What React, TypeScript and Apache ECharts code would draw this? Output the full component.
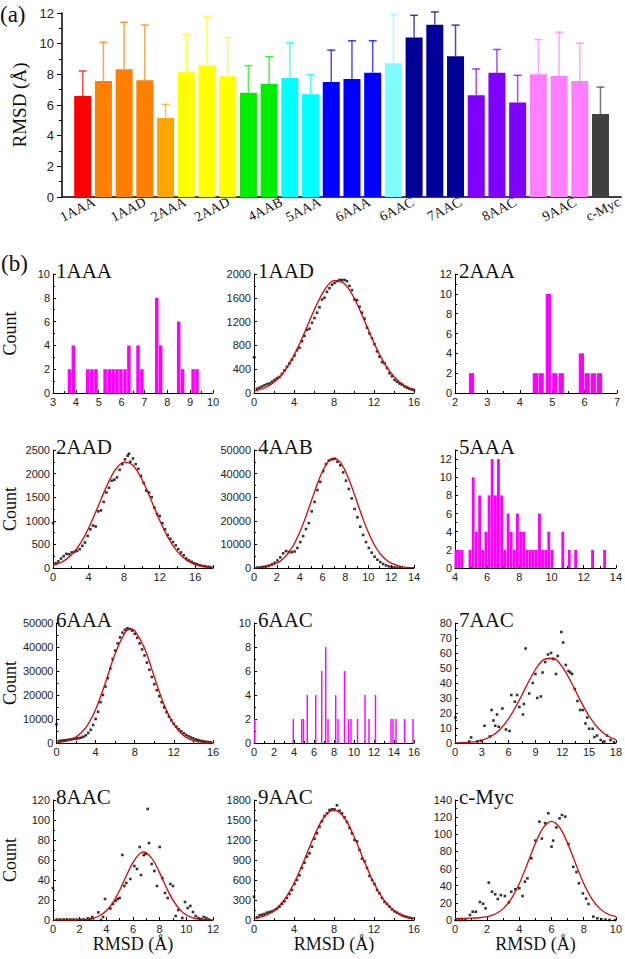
import React, { useEffect, useRef } from "react";
import * as echarts from "echarts";

// ---------- Panel (a) data ----------
const barValues = [6.59, 7.57, 8.33, 7.61, 5.16, 8.13, 8.57, 7.87, 6.8, 7.39, 7.76, 6.7, 7.5, 7.7, 8.11, 8.72, 10.4, 11.23, 9.18, 6.63, 8.11, 6.17, 8.0, 7.89, 7.57, 5.42];
const barErrors = [1.63, 2.53, 3.07, 3.61, 0.88, 2.49, 3.19, 2.53, 1.77, 1.76, 2.3, 1.28, 2.08, 2.49, 2.08, 3.18, 1.45, 0.84, 2.03, 1.72, 1.51, 1.77, 2.27, 2.86, 2.46, 1.75];
const barColors = ["#ff0000", "#ff8000", "#ff8000", "#ff8000", "#ffa500", "#ffff00", "#ffff00", "#ffff00", "#00ee00", "#00ee00", "#00ffff", "#00ffff", "#0000ff", "#0000ff", "#0000ff", "#80ffff", "#000099", "#000099", "#000099", "#8000ff", "#8000ff", "#8000ff", "#ff80ff", "#ff80ff", "#ff80ff", "#404040"];
const groupLabels = ["1AAA", "1AAD", "2AAA", "2AAD", "4AAB", "5AAA", "6AAA", "6AAC", "7AAC", "8AAC", "9AAC", "c-Myc"];
const groupLabelPos = [1.55, 4.0, 5.95, 8.05, 10.6, 12.45, 14.85, 16.95, 19.25, 21.9, 24.8, 26.9];

// ---------- Panel (b) histograms ----------
const hist1AAA = [[3.72, 2], [3.89, 4], [4.52, 2], [4.7, 2], [4.88, 2], [5.28, 2], [5.46, 2], [5.63, 2], [5.8, 2], [5.97, 2], [6.15, 2], [6.32, 4], [6.72, 4], [6.89, 2], [7.54, 8], [7.71, 4], [8.5, 6], [8.67, 2], [9.13, 2], [9.3, 2]];
const hist2AAA = [[2.51, 2], [4.48, 2], [4.66, 2], [4.88, 10], [5.08, 2], [5.28, 2], [5.9, 4], [6.08, 2], [6.27, 2], [6.46, 2]];
const hist5AAA = [[4.06, 2], [4.25, 2], [4.43, 2], [4.93, 2], [5.13, 10], [5.33, 4], [5.53, 8], [5.73, 2], [5.92, 4], [6.12, 8], [6.31, 12], [6.51, 8], [6.7, 12], [6.9, 8], [7.1, 2], [7.3, 6], [7.49, 4], [7.69, 2], [7.88, 6], [8.08, 4], [8.27, 4], [8.47, 2], [8.66, 2], [8.86, 2], [9.05, 2], [9.25, 6], [9.44, 2], [9.64, 2], [9.83, 4], [10.03, 2], [10.7, 4], [11.1, 2], [11.5, 2], [12.55, 2], [13.3, 2]];
const hist6AAC = [[0.08, 2], [3.93, 2], [4.77, 2], [4.95, 2], [5.33, 4], [6.17, 4], [6.77, 6], [7.17, 8], [7.4, 2], [8.17, 4], [8.4, 2], [9.05, 6], [9.45, 2], [9.7, 2], [10.35, 2], [11.1, 4], [11.5, 2], [12.15, 4], [13.7, 2], [13.9, 2], [14.2, 2], [15.05, 2], [15.9, 2]];

// ---------- Panel (b) scatter points and fitted curves ----------
const pts1AAD = [[0, 600], [0.3, 70], [0.55, 90], [0.8, 110], [1.05, 130], [1.3, 150], [1.55, 160], [1.8, 190], [2.05, 220], [2.3, 250], [2.55, 270], [2.8, 320], [3.05, 380], [3.3, 440], [3.55, 500], [3.8, 560], [4.05, 630], [4.3, 720], [4.55, 760], [4.8, 870], [5.05, 960], [5.3, 1060], [5.55, 1080], [5.8, 1180], [6.05, 1260], [6.3, 1350], [6.55, 1440], [6.8, 1570], [7.05, 1600], [7.3, 1700], [7.55, 1760], [7.8, 1820], [8.05, 1850], [8.3, 1880], [8.55, 1900], [8.8, 1900], [9.05, 1900], [9.3, 1880], [9.55, 1800], [9.8, 1730], [10.05, 1570], [10.3, 1560], [10.55, 1450], [10.8, 1350], [11.05, 1250], [11.3, 1100], [11.55, 1000], [11.8, 920], [12.05, 820], [12.3, 700], [12.55, 610], [12.8, 520], [13.05, 500], [13.3, 420], [13.55, 330], [13.8, 280], [14.05, 220], [14.3, 190], [14.55, 160], [14.8, 140], [15.05, 110], [15.3, 90], [15.55, 70], [15.8, 60], [16, 50]];
const fit1AAD = [[0, 31], [1, 80], [2, 179], [3, 357], [4, 632], [5, 995], [6, 1387], [7, 1718], [8, 1890], [9, 1845], [10, 1600], [11, 1232], [12, 842], [13, 511], [14, 275], [15, 131], [16, 56]];

const pts2AAD = [[0, 950], [0.3, 100], [0.6, 140], [0.9, 200], [1.2, 250], [1.5, 300], [1.8, 290], [2.1, 330], [2.4, 340], [2.7, 360], [3.0, 400], [3.3, 470], [3.6, 540], [3.9, 680], [4.2, 820], [4.5, 900], [4.8, 880], [5.1, 1200], [5.4, 1220], [5.7, 1400], [6.0, 1600], [6.3, 1700], [6.6, 1850], [6.9, 1870], [7.2, 1920], [7.5, 2080], [7.8, 2200], [8.1, 2300], [8.4, 2380], [8.55, 2420], [8.7, 2250], [9.0, 2320], [9.3, 2200], [9.6, 2100], [9.9, 1950], [10.2, 1800], [10.5, 1640], [10.8, 1600], [11.1, 1500], [11.4, 1280], [11.7, 1140], [12.0, 1100], [12.3, 950], [12.6, 820], [12.9, 700], [13.2, 620], [13.5, 550], [13.8, 480], [14.1, 400], [14.4, 330], [14.7, 270], [15.0, 200], [15.3, 160], [15.6, 130], [15.9, 100], [16.2, 80], [16.5, 60], [16.8, 45], [17.1, 35], [17.4, 25], [17.7, 20]];
const fit2AAD = [[0, 54], [1, 126], [2, 265], [3, 502], [4, 844], [5, 1273], [6, 1719], [7, 2077], [8, 2245], [9, 2171], [10, 1879], [11, 1455], [12, 1011], [13, 626], [14, 348], [15, 172], [16, 77], [17, 31], [18, 11]];

const pts4AAB = [[0.3, 200], [0.55, 300], [0.8, 500], [1.05, 700], [1.3, 1000], [1.55, 1500], [1.8, 2200], [2.05, 3200], [2.3, 4500], [2.55, 6200], [2.8, 7200], [3.05, 6800], [3.3, 6700], [3.55, 7000], [3.8, 8500], [4.05, 11000], [4.3, 13500], [4.55, 16500], [4.8, 19000], [5.05, 24000], [5.3, 28000], [5.55, 33000], [5.8, 36500], [6.05, 41000], [6.3, 44000], [6.55, 45500], [6.8, 46000], [7.05, 46300], [7.3, 45000], [7.55, 43500], [7.8, 40500], [8.05, 37000], [8.3, 33500], [8.55, 29500], [8.8, 25000], [9.05, 21500], [9.3, 17500], [9.55, 14000], [9.8, 11000], [10.05, 8500], [10.3, 6500], [10.55, 4800], [10.8, 3500], [11.05, 2500], [11.3, 1700], [11.55, 1100], [11.8, 700], [12.05, 400], [12.3, 250], [12.55, 150], [12.8, 80]];
const fit4AAB = [[0, 100], [1, 520], [2, 2040], [2.5, 3700], [3, 6300], [3.5, 10060], [4, 15100], [4.5, 21300], [5, 28200], [5.5, 35100], [6, 41000], [6.5, 45070], [7, 46500], [7.5, 45070], [8, 41000], [8.5, 35100], [9, 28200], [9.5, 21300], [10, 15100], [10.5, 10060], [11, 6300], [11.5, 3700], [12, 2040], [13, 520], [14, 100]];

const pts6AAA = [[0, 7800], [0.25, 800], [0.5, 1000], [0.75, 1100], [1.0, 1200], [1.25, 1400], [1.5, 1500], [1.75, 1700], [2.0, 1800], [2.25, 2000], [2.5, 2200], [2.75, 2600], [3.0, 3200], [3.25, 4200], [3.5, 5500], [3.75, 7500], [4.0, 10000], [4.25, 13000], [4.5, 17000], [4.75, 20000], [5.0, 23500], [5.25, 27000], [5.5, 31000], [5.75, 35000], [6.0, 38500], [6.25, 41500], [6.5, 44000], [6.75, 46000], [7.0, 47200], [7.25, 47800], [7.5, 47500], [7.75, 46800], [8.0, 45500], [8.25, 43800], [8.5, 41500], [8.75, 39000], [9.0, 36500], [9.25, 33500], [9.5, 30500], [9.75, 27500], [10.0, 24500], [10.25, 22000], [10.5, 19500], [10.75, 17000], [11.0, 14800], [11.25, 12800], [11.5, 11000], [11.75, 9400], [12.0, 8000], [12.25, 6800], [12.5, 5800], [12.75, 4900], [13.0, 4100], [13.25, 3400], [13.5, 2800], [13.75, 2300], [14.0, 1900], [14.25, 1500], [14.5, 1200], [14.75, 900], [15.0, 700], [15.25, 500], [15.5, 400], [15.75, 300]];
const fit6AAA = [[0, 200], [1, 770], [2, 2460], [3, 6420], [4, 13950], [5, 25080], [6, 37280], [7, 45920], [7.6, 47500], [8, 46790], [9, 39470], [10, 27570], [11, 15920], [12, 7610], [13, 3020], [14, 990], [15, 270], [16, 60]];

const pts7AAC = [[0.05, 17], [1.6, 1], [1.8, 3.7], [2.5, 1], [2.9, 1.5], [3.3, 11.5], [3.9, 4.4], [4.1, 22], [4.3, 15], [4.5, 11.5], [4.7, 19], [4.9, 10.8], [5.3, 23], [5.7, 9], [6.1, 8], [6.3, 32], [6.7, 27.5], [6.95, 32], [7.2, 24], [7.6, 19], [7.7, 26], [7.9, 63], [8.3, 33], [8.7, 40], [9.0, 46], [9.2, 30], [9.6, 31], [9.8, 47], [10.1, 54], [10.4, 59], [10.75, 60], [11.0, 56], [11.3, 46], [11.5, 58], [11.9, 74], [12.1, 67], [12.4, 52], [12.7, 48], [12.9, 47], [13.1, 46], [13.4, 36], [13.7, 28], [14.0, 22], [14.3, 22], [14.6, 13], [14.8, 17], [15.0, 9.5], [15.4, 9.5], [15.6, 4], [15.9, 5], [16.3, 2], [16.7, 1], [17.0, 5], [17.4, 2], [17.8, 0.5]];
const fit7AAC = [[0, 0.1], [1, 0.2], [2, 0.7], [3, 1.8], [4, 4.3], [5, 8.8], [6, 16.2], [7, 26.3], [8, 38.1], [9, 49], [10, 55.8], [11, 56.5], [12, 50.7], [13, 40.5], [14, 28.6], [15, 18], [16, 10], [17, 5], [18, 2.2]];

const pts8AAC = [[0, 32], [0.3, 0.5], [0.55, 0.5], [0.8, 0.5], [1.05, 0.5], [1.3, 0.5], [1.55, 0.5], [1.8, 0.5], [2.05, 0.5], [2.3, 0.5], [2.6, 1.6], [2.8, 1], [2.95, 3], [3.4, 7.6], [3.6, 0], [3.75, 3], [3.9, 21], [4.3, 11.5], [4.5, 16], [4.7, 19], [4.85, 21], [5.0, 22], [5.2, 65], [5.35, 34], [5.5, 37], [5.8, 41], [6.1, 54], [6.3, 51], [6.5, 73], [6.6, 45], [6.8, 65], [6.95, 66], [7.1, 111], [7.2, 77], [7.4, 56], [7.6, 49], [7.8, 34], [8.0, 73], [8.2, 42], [8.4, 27], [8.6, 22], [8.8, 36], [9.0, 34], [9.2, 4], [9.4, 10], [9.7, 2], [9.9, 18], [10.1, 12], [10.3, 14], [10.5, 8], [10.7, 4], [10.9, 2], [11.1, 1], [11.3, 3], [11.5, 2], [11.7, 0.5]];
const fit8AAC = [[0, 0], [1, 0], [2, 0.2], [2.5, 0.7], [3, 1.7], [3.5, 4.2], [4, 9.2], [4.5, 17.6], [5, 29.7], [5.5, 44.2], [6, 57.7], [6.5, 66.4], [6.8, 68], [7, 67.3], [7.5, 60], [8, 47.1], [8.5, 32.5], [9, 19.8], [9.5, 10.6], [10, 5], [10.5, 2.1], [11, 0.8], [11.5, 0.3], [12, 0.1]];

const pts9AAC = [[0, 350], [0.3, 40], [0.55, 70], [0.8, 80], [1.05, 90], [1.3, 110], [1.55, 120], [1.8, 130], [2.05, 150], [2.3, 170], [2.55, 200], [2.8, 240], [3.05, 280], [3.3, 330], [3.55, 390], [3.8, 450], [4.05, 540], [4.3, 600], [4.55, 670], [4.8, 780], [5.05, 860], [5.3, 950], [5.55, 1000], [5.8, 1100], [6.05, 1220], [6.3, 1300], [6.55, 1400], [6.8, 1480], [7.05, 1560], [7.3, 1600], [7.55, 1650], [7.8, 1660], [8.05, 1660], [8.3, 1720], [8.55, 1640], [8.8, 1600], [9.05, 1540], [9.3, 1470], [9.55, 1380], [9.8, 1300], [10.05, 1200], [10.3, 1180], [10.55, 1050], [10.8, 920], [11.05, 880], [11.3, 780], [11.55, 660], [11.8, 600], [12.05, 540], [12.3, 450], [12.55, 400], [12.8, 330], [13.05, 270], [13.3, 240], [13.55, 200], [13.8, 160], [14.05, 130], [14.3, 110], [14.55, 90], [14.8, 70], [15.05, 55], [15.3, 45], [15.55, 35], [15.8, 25]];
const fit9AAC = [[0, 20], [1, 57], [2, 140], [3, 297], [4, 551], [5, 890], [6, 1254], [7, 1541], [8, 1650], [9, 1541], [10, 1254], [11, 890], [12, 551], [13, 297], [14, 140], [15, 57], [16, 20]];

const ptsMyc = [[0.05, 0], [0.25, 0], [0.45, 0], [0.65, 0], [0.93, 5.8], [1.1, 9.7], [1.3, 9.7], [1.55, 21], [1.75, 19], [1.9, 13.6], [2.1, 43.6], [2.3, 33], [2.5, 30], [2.66, 24.5], [2.85, 29], [3.1, 28], [3.35, 20.6], [3.5, 33], [3.75, 35.8], [4.0, 37], [4.2, 28], [4.35, 44.7], [4.5, 48.6], [4.75, 72], [5.0, 92.6], [5.25, 114.7], [5.4, 95], [5.6, 113], [5.8, 124.5], [6.0, 85.6], [6.1, 92.6], [6.3, 108], [6.5, 118.6], [6.65, 122.5], [6.85, 120.6], [7.05, 88.7], [7.35, 62], [7.55, 56], [7.7, 42.8], [7.95, 31], [8.15, 25], [8.3, 18.7], [8.6, 3.9], [8.85, 2], [9.1, 0.8], [9.35, 0.5], [9.6, 0], [9.95, 0]];
const fitMyc = [[0, 2], [1, 2.2], [1.5, 2.6], [2, 3.9], [2.5, 7], [3, 13.3], [3.5, 25], [4, 42.7], [4.5, 65.6], [5, 89.6], [5.5, 108], [6, 115], [6.5, 108], [7, 89.6], [7.5, 65.6], [8, 42.7], [8.5, 25], [9, 13.3], [9.5, 7], [10, 3.9]];

// panel axis ranges (ticks)
const panels: any[] = [
  { name: "1AAA", hist: hist1AAA, bin: 0.17, xMin: 3, xMax: 10, xInt: 1, yMax: 10, yInt: 2 },
  { name: "1AAD", pts: pts1AAD, fit: fit1AAD, xMin: 0, xMax: 16, xInt: 4, yMax: 2000, yInt: 400 },
  { name: "2AAA", hist: hist2AAA, bin: 0.18, xMin: 2, xMax: 7, xInt: 1, yMax: 12, yInt: 2 },
  { name: "2AAD", pts: pts2AAD, fit: fit2AAD, xMin: 0, xMax: 18, xInt: 4, yMax: 2500, yInt: 500 },
  { name: "4AAB", pts: pts4AAB, fit: fit4AAB, xMin: 0, xMax: 14, xInt: 2, yMax: 50000, yInt: 10000 },
  { name: "5AAA", hist: hist5AAA, bin: 0.195, xMin: 4, xMax: 14, xInt: 2, yMax: 13, yInt: 2 },
  { name: "6AAA", pts: pts6AAA, fit: fit6AAA, xMin: 0, xMax: 16, xInt: 4, yMax: 50000, yInt: 10000 },
  { name: "6AAC", hist: hist6AAC, bin: 0.16, xMin: 0, xMax: 16, xInt: 2, yMax: 10, yInt: 2 },
  { name: "7AAC", pts: pts7AAC, fit: fit7AAC, xMin: 0, xMax: 18, xInt: 3, yMax: 80, yInt: 10 },
  { name: "8AAC", pts: pts8AAC, fit: fit8AAC, xMin: 0, xMax: 12, xInt: 2, yMax: 120, yInt: 20 },
  { name: "9AAC", pts: pts9AAC, fit: fit9AAC, xMin: 0, xMax: 16, xInt: 4, yMax: 1800, yInt: 300 },
  { name: "c-Myc", pts: ptsMyc, fit: fitMyc, xMin: 0, xMax: 10, xInt: 2, yMax: 140, yInt: 20 },
];

// ---------- layout ----------
const SANS = "'Liberation Sans', Arial, sans-serif";
const SERIF = "'Liberation Serif', 'Times New Roman', serif";
const colLeft = [52, 254, 455];
const colWidth = [161, 160, 162];
const rowTop = [274, 450, 623, 800];
const rowHeight = [119, 118, 120, 120];

function buildOption() {
  const grid: any[] = [{ left: 62, top: 13, width: 561, height: 184 }];
  const xAxis: any[] = [];
  const yAxis: any[] = [];
  const series: any[] = [];
  const graphic: any[] = [];

  // Panel (a)
  xAxis.push({
    type: "value", gridIndex: 0, min: 0, max: 27,
    axisLine: { lineStyle: { color: "#000", width: 1.5 } },
    axisTick: { show: false }, splitLine: { show: false },
    axisLabel: {
      customValues: groupLabelPos,
      formatter: (v: number) => {
        const i = groupLabelPos.findIndex((p) => Math.abs(p - v) < 1e-6);
        return i >= 0 ? groupLabels[i] : "";
      },
      rotate: 27, fontFamily: SERIF, fontSize: 14, color: "#111", margin: 4,
    },
  });
  yAxis.push({
    type: "value", gridIndex: 0, min: 0, max: 12, interval: 2,
    axisLine: { show: true, lineStyle: { color: "#000", width: 1.5 } },
    axisTick: { show: true, length: 5, lineStyle: { color: "#000" } },
    minorTick: { show: true, splitNumber: 2, length: 3, lineStyle: { color: "#000" } },
    splitLine: { show: false },
    axisLabel: { fontFamily: SANS, fontSize: 13, color: "#222", margin: 8 },
    name: "RMSD (Å)", nameLocation: "middle", nameGap: 32,
    nameTextStyle: { fontFamily: SERIF, fontSize: 19, color: "#111" },
  });
  series.push({
    type: "bar", xAxisIndex: 0, yAxisIndex: 0, barWidth: 17, z: 2,
    data: barValues.map((v, i) => ({ value: [i + 1, v], itemStyle: { color: barColors[i] } })),
  });
  series.push({
    type: "custom", xAxisIndex: 0, yAxisIndex: 0, z: 3,
    encode: { x: 0, y: [1, 2] },
    data: barValues.map((v, i) => [i + 1, v, v + barErrors[i], i]),
    renderItem: (params: any, api: any) => {
      const x = api.value(0);
      const idx = api.value(3);
      const lo = api.coord([x, api.value(1)]);
      const hi = api.coord([x, api.value(2)]);
      const c = barColors[idx];
      return {
        type: "group",
        children: [
          { type: "line", shape: { x1: lo[0], y1: lo[1], x2: hi[0], y2: hi[1] }, style: { stroke: c, lineWidth: 1.5, opacity: 0.7 } },
          { type: "line", shape: { x1: hi[0] - 4, y1: hi[1], x2: hi[0] + 4, y2: hi[1] }, style: { stroke: c, lineWidth: 1.5, opacity: 0.75 } },
        ],
      };
    },
  });

  graphic.push({ type: "text", x: 0, y: 14, style: { text: "(a)", fontFamily: SERIF, fontSize: 23, fill: "#111", verticalAlign: "middle" } });
  graphic.push({ type: "text", x: 1, y: 263, style: { text: "(b)", fontFamily: SERIF, fontSize: 23, fill: "#111", verticalAlign: "middle" } });

  // Panel (b)
  panels.forEach((p, k) => {
    const col = k % 3;
    const row = Math.floor(k / 3);
    const gi = k + 1;
    const left = colLeft[col];
    const width = colWidth[col];
    const top = rowTop[row];
    const height = rowHeight[row];
    grid.push({ left, top, width, height });
    const hideMaxX = p.xMax % p.xInt !== 0;
    const hideMaxY = p.yMax % p.yInt !== 0;
    xAxis.push({
      type: "value", gridIndex: gi, min: p.xMin, max: p.xMax, interval: p.xInt,
      axisLine: { lineStyle: { color: "#000", width: 1 } },
      axisTick: { show: true, inside: true, length: 3, lineStyle: { color: "#000" } },
      minorTick: { show: true, splitNumber: 2, length: 2, lineStyle: { color: "#000" } },
      splitLine: { show: false },
      axisLabel: { fontFamily: SANS, fontSize: 11, color: "#222", margin: 3, showMaxLabel: !hideMaxX, formatter: (v: number) => String(v) },
      name: row === 3 ? "RMSD (Å)" : "", nameLocation: "middle", nameGap: 15,
      nameTextStyle: { fontFamily: SERIF, fontSize: 18, color: "#111" },
    });
    yAxis.push({
      type: "value", gridIndex: gi, min: 0, max: p.yMax, interval: p.yInt,
      axisLine: { show: true, lineStyle: { color: "#000", width: 1 } },
      axisTick: { show: true, inside: true, length: 3, lineStyle: { color: "#000" } },
      minorTick: { show: true, splitNumber: 2, length: 2, lineStyle: { color: "#000" } },
      splitLine: { show: false },
      axisLabel: { fontFamily: SANS, fontSize: 11, color: "#222", margin: 3, showMaxLabel: !hideMaxY, formatter: (v: number) => String(v) },
      name: col === 0 ? "Count" : "", nameLocation: "middle", nameGap: 34,
      nameTextStyle: { fontFamily: SERIF, fontSize: 18, color: "#111" },
    });
    if (p.hist) {
      const pxPerUnit = width / (p.xMax - p.xMin);
      series.push({
        type: "bar", xAxisIndex: gi, yAxisIndex: gi,
        barWidth: Math.max(1.4, p.bin * pxPerUnit * 0.9),
        itemStyle: { color: "#ff00ff" },
        data: p.hist,
      });
    } else {
      series.push({
        type: "scatter", xAxisIndex: gi, yAxisIndex: gi, symbol: "rect", symbolSize: 2.6,
        itemStyle: { color: "#000" }, data: p.pts, z: 2,
      });
      series.push({
        type: "line", xAxisIndex: gi, yAxisIndex: gi, smooth: 0.35, symbol: "none",
        lineStyle: { color: "#e00000", width: 1.3 }, data: p.fit, z: 3,
      });
    }
    graphic.push({
      type: "text", x: left + 4, y: top - 3,
      style: { text: p.name, fontFamily: SERIF, fontSize: 21, fill: "#111", verticalAlign: "middle" },
    });
  });

  return {
    animation: false,
    backgroundColor: "#fff",
    grid, xAxis, yAxis, series, graphic,
  };
}

export default function App() {
  const ref = useRef<HTMLDivElement>(null);
  useEffect(() => {
    const chart = echarts.init(ref.current!, null, { renderer: "svg" });
    chart.setOption(buildOption() as any);
    return () => chart.dispose();
  }, []);
  return (
    <div
      ref={ref}
      style={{ position: "absolute", left: 0, top: 0, width: 625, height: 959, background: "#fff" }}
    />
  );
}
